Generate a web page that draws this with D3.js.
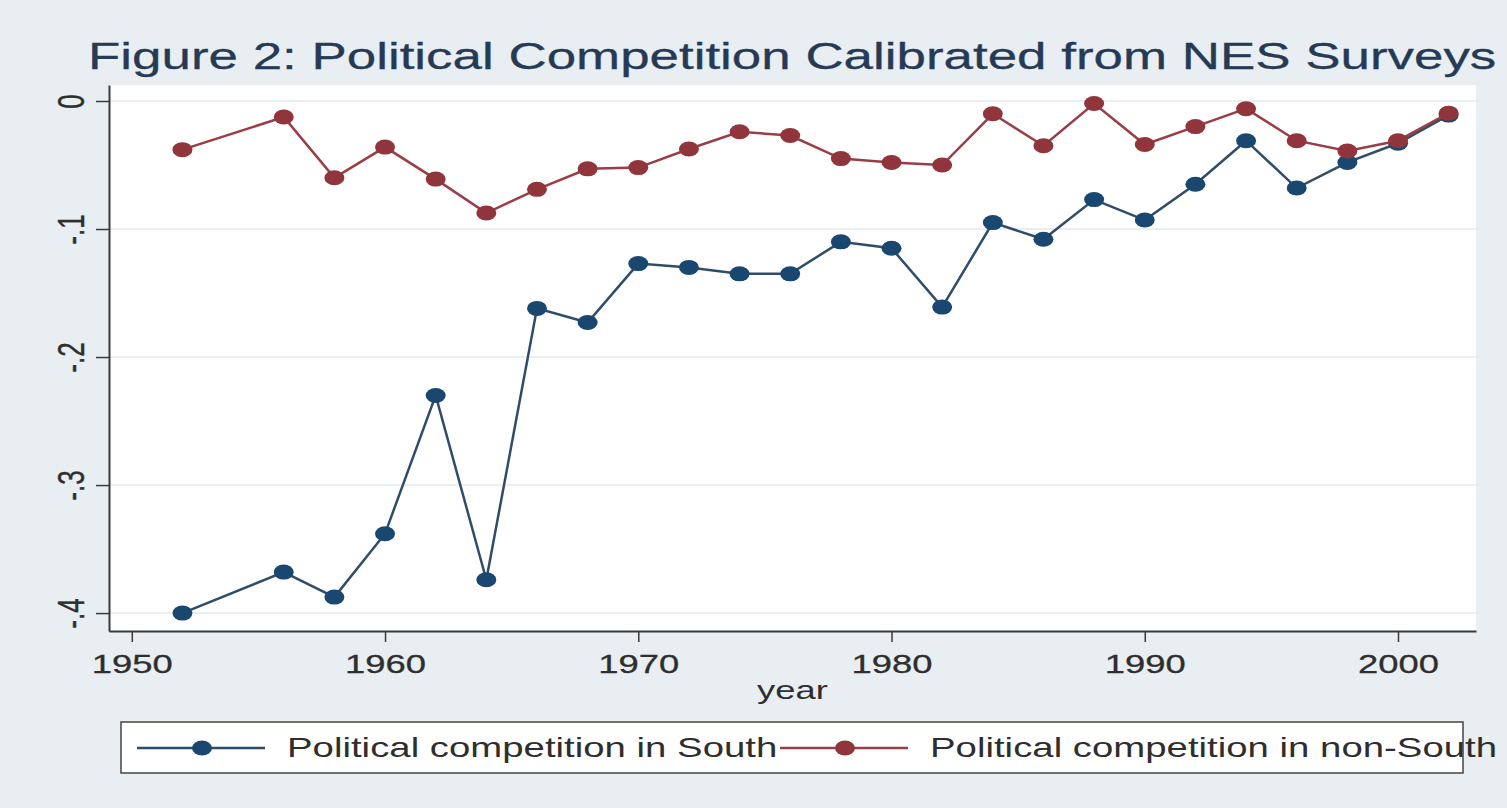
<!DOCTYPE html>
<html>
<head>
<meta charset="utf-8">
<script src="https://cdnjs.cloudflare.com/ajax/libs/d3/7.8.5/d3.min.js"></script>
<style>
  body { margin: 0; background: #e8eef2; }
  svg text { font-family: "Liberation Sans", Arial, sans-serif; }
</style>
</head>
<body>
<div id="chart"></div>
<script>

var years = [1952, 1956, 1958, 1960, 1962, 1964, 1966, 1968, 1970, 1972, 1974, 1976, 1978,
             1980, 1982, 1984, 1986, 1988, 1990, 1992, 1994, 1996, 1998, 2000, 2002];

var south = [-0.400, -0.368, -0.3875, -0.338, -0.230, -0.374, -0.162, -0.173, -0.127, -0.130, -0.135, -0.135, -0.110,
             -0.115, -0.161, -0.095, -0.108, -0.077, -0.093, -0.065, -0.031, -0.068, -0.048, -0.033, -0.011];

var nonSouth = [-0.038, -0.0125, -0.060, -0.036, -0.061, -0.0875, -0.069, -0.053, -0.052, -0.0375, -0.024, -0.027, -0.045,
                -0.048, -0.050, -0.010, -0.035, -0.002, -0.034, -0.020, -0.006, -0.031, -0.039, -0.031, -0.0095];

var xTicks = [1950, 1960, 1970, 1980, 1990, 2000];
var yTicks = [0, -0.1, -0.2, -0.3, -0.4];
var yTickLabels = ["0", "-.1", "-.2", "-.3", "-.4"];

var seriesNames = ["Political competition in South", "Political competition in non-South"];
var titleText = "Figure 2: Political Competition Calibrated from NES Surveys";

var width = 1507, height = 808;
var sx = 1.4; // the picture is stretched sideways, text too

var svg = d3.select("#chart").append("svg")
  .attr("width", width)
  .attr("height", height);

svg.append("rect").attr("width", width).attr("height", height).attr("fill", "#e8eef2");

var x = d3.scaleLinear().domain([1949.1, 2003.08]).range([109, 1476]);
var y = d3.scaleLinear().domain([-0.414, 0.0125]).range([631, 85]);

// plot region
svg.append("rect")
  .attr("x", x.range()[0]).attr("y", y.range()[1])
  .attr("width", x.range()[1] - x.range()[0])
  .attr("height", y.range()[0] - y.range()[1])
  .attr("fill", "#ffffff");

// grid
svg.append("g").selectAll("line")
  .data(yTicks)
  .enter().append("line")
    .attr("x1", x.range()[0]).attr("x2", x.range()[1])
    .attr("y1", function(d){ return y(d) }).attr("y2", function(d){ return y(d) })
    .attr("stroke", "#eaeff2")
    .attr("stroke-width", 2);

// title
svg.append("text")
  .attr("transform", "translate(88,69) scale(" + sx + ",1)")
  .attr("font-size", 37.8)
  .attr("fill", "#263a56")
  .attr("stroke", "#263a56")
  .attr("stroke-width", 0.3)
  .text(titleText);

// axes
var xAxis = d3.axisBottom(x).tickValues(xTicks).tickFormat(d3.format("d")).tickSizeInner(11).tickSizeOuter(0);
var gx = svg.append("g").attr("transform", "translate(0," + y.range()[0] + ")").call(xAxis);
gx.attr("font-family", null);
gx.select(".domain").attr("stroke", "#3a3a3a").attr("stroke-width", 2);
gx.selectAll(".tick line").attr("stroke", "#3a3a3a").attr("stroke-width", 1.5);
gx.selectAll(".tick text")
  .attr("y", 0).attr("dy", 0)
  .attr("transform", "translate(0,42) scale(" + sx + ",1)")
  .attr("font-size", 26)
  .attr("fill", "#2e2e2e")
  .attr("stroke", "#2e2e2e")
  .attr("stroke-width", 0.3);

var yAxis = d3.axisLeft(y).tickValues(yTicks)
  .tickFormat(function(d, i){ return yTickLabels[i] })
  .tickSizeInner(13).tickSizeOuter(0);
var gy = svg.append("g").attr("transform", "translate(" + x.range()[0] + ",0)").call(yAxis);
gy.attr("font-family", null);
gy.select(".domain").attr("stroke", "#3a3a3a").attr("stroke-width", 2);
gy.selectAll(".tick line").attr("stroke", "#3a3a3a").attr("stroke-width", 1.5);
gy.selectAll(".tick text")
  .attr("x", 0).attr("dy", 0)
  .attr("text-anchor", "middle")
  .attr("transform", "translate(-25,0) scale(" + sx + ",1) rotate(-90)")
  .attr("font-size", 26)
  .attr("fill", "#2e2e2e")
  .attr("stroke", "#2e2e2e")
  .attr("stroke-width", 0.3);

svg.append("text")
  .attr("transform", "translate(" + ((x.range()[0] + x.range()[1]) / 2) + ",699) scale(" + sx + ",1)")
  .attr("text-anchor", "middle")
  .attr("font-size", 26)
  .attr("fill", "#2e2e2e")
  .text("year");

// series
var series = [
  { name: seriesNames[0], values: south, line: "#2f4d6a", dot: "#1a476f" },
  { name: seriesNames[1], values: nonSouth, line: "#9a3d44", dot: "#90353b" }
];

var line = d3.line()
  .x(function(d, i){ return x(years[i]) })
  .y(function(d){ return y(d) });

series.forEach(function(s){
  svg.append("path")
    .datum(s.values)
    .attr("fill", "none")
    .attr("stroke", s.line)
    .attr("stroke-width", 2.5)
    .attr("d", line);

  svg.append("g").selectAll("ellipse")
    .data(s.values)
    .enter().append("ellipse")
      .attr("cx", function(d, i){ return x(years[i]) })
      .attr("cy", function(d){ return y(d) })
      .attr("rx", 10)
      .attr("ry", 7.5)
      .attr("fill", s.dot);
});

// legend
var legend = svg.append("g");
legend.append("rect")
  .attr("x", 121).attr("y", 722)
  .attr("width", 1342).attr("height", 51)
  .attr("fill", "#fff")
  .attr("stroke", "#444")
  .attr("stroke-width", 1.5);

var legendX = [137, 780];
series.forEach(function(s, i){
  var lx = legendX[i];
  legend.append("line")
    .attr("x1", lx).attr("x2", lx + 128)
    .attr("y1", 748).attr("y2", 748)
    .attr("stroke", s.line).attr("stroke-width", 2.5);
  legend.append("ellipse")
    .attr("cx", lx + 65).attr("cy", 748)
    .attr("rx", 10).attr("ry", 7.5)
    .attr("fill", s.dot);
  legend.append("text")
    .attr("transform", "translate(" + (lx + 150) + ",757) scale(" + sx + ",1)")
    .attr("font-size", 27.4)
    .attr("fill", "#2e2e2e")
    .text(s.name);
});

</script>
</body>
</html>
